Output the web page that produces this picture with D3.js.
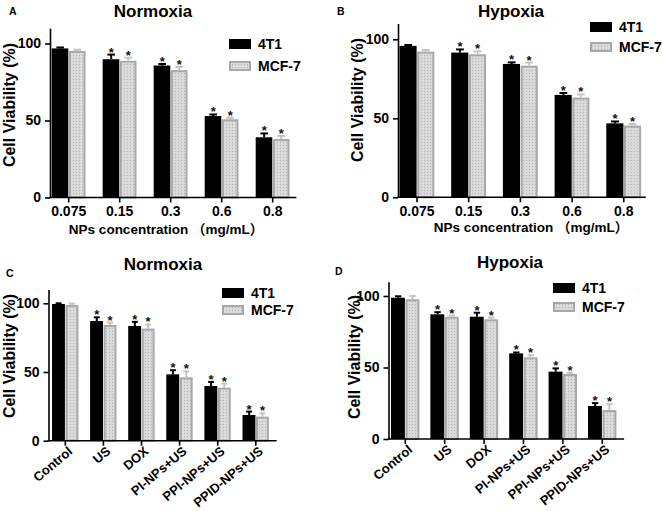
<!DOCTYPE html>
<html>
<head>
<meta charset="utf-8">
<script src="https://cdn.jsdelivr.net/npm/d3@7"></script>
<style>
  html, body { margin: 0; padding: 0; background: #fff; }
  text { font-family: "Liberation Sans", Arial, "Noto Sans CJK SC", sans-serif; font-weight: bold; }
</style>
</head>
<body>
<svg id="fig" width="663" height="511"></svg>
<script>
// ---------------- DATA ----------------
const concLabels = ["0.075", "0.15", "0.3", "0.6", "0.8"];
const treatLabels = ["Control", "US", "DOX", "PI-NPs+US", "PPI-NPs+US", "PPID-NPs+US"];
const seriesNames = ["4T1", "MCF-7"];
const yTickValues = [0, 50, 100];

// Panel A: Normoxia, NPs concentration
const a4T1 = [96.8, 89.8, 85.7, 52.9, 39.1];
const a4T1Err = [0.6, 3.0, 1.0, 1.0, 2.5];
const aMCF7 = [95.2, 88.8, 82.7, 50.8, 38.0];
const aMCF7Err = [0.8, 2.0, 2.0, 1.0, 2.0];
const aSig = [false, true, true, true, true];

// Panel B: Hypoxia, NPs concentration
const b4T1 = [95.8, 91.6, 84.4, 64.8, 46.8];
const b4T1Err = [0.6, 2.0, 1.0, 1.2, 1.2];
const bMCF7 = [92.2, 90.5, 83.3, 63.1, 45.4];
const bMCF7Err = [1.0, 1.8, 2.0, 2.0, 1.0];
const bSig = [false, true, true, true, true];

// Panel C: Normoxia, treatments
const c4T1 = [99.5, 87.1, 83.5, 48.3, 39.8, 18.7];
const c4T1Err = [0.5, 2.7, 3.0, 3.0, 3.0, 2.5];
const cMCF7 = [98.8, 84.2, 81.6, 46.1, 38.6, 17.5];
const cMCF7Err = [1.0, 1.8, 3.0, 4.3, 3.0, 2.5];
const cSig = [false, true, true, true, true, true];

// Panel D: Hypoxia, treatments
const d4T1 = [98.8, 87.2, 85.5, 59.9, 47.1, 23.1];
const d4T1Err = [1.0, 1.5, 2.8, 0.6, 2.3, 2.0];
const dMCF7 = [97.7, 85.5, 83.7, 57.1, 45.5, 20.3];
const dMCF7Err = [2.3, 0.8, 1.2, 1.5, 0.8, 4.0];
const dSig = [false, true, true, true, true, true];

// ---------------- DRAWING ----------------
const svg = d3.select("#fig");
const defs = svg.append("defs");
const pat = defs.append("pattern").attr("id", "dots")
  .attr("width", 3).attr("height", 3).attr("patternUnits", "userSpaceOnUse");
pat.append("rect").attr("width", 3).attr("height", 3).attr("fill", "#dcdcdc");
pat.append("circle").attr("cx", 1.5).attr("cy", 1.5).attr("r", 0.65).attr("fill", "#b4b4b4");

const barFill = ["#000", "url(#dots)"];
const barStroke = ["none", "#a8a8a8"];
const errColor = ["#000", "#c4c4c4"];

function drawPanel(p) {
  const g = svg.append("g");
  const n = p.categories.length;
  const y = d3.scaleLinear().domain([0, 110])
    .range([p.y0, p.y0 - (p.y0 - p.y100) * 1.1]);
  const r1 = p.axisX + p.step * (n - p.pi + 2 * p.po);
  const x = d3.scaleBand().domain(p.categories).range([p.axisX, r1])
    .paddingInner(p.pi).paddingOuter(p.po);
  const xs = d3.scaleBand().domain(seriesNames).range([0, x.bandwidth()]);

  const rows = [];
  p.categories.forEach((c, i) => {
    seriesNames.forEach((s, j) => {
      rows.push({ c, s, j, v: p.vals[j][i], e: p.errs[j][i], sig: p.sig[i] });
    });
  });

  // bars
  g.selectAll("rect.bar").data(rows).enter().append("rect")
    .attr("class", "bar")
    .attr("x", d => x(d.c) + xs(d.s) + (d.j === 1 ? 1.2 : 0))
    .attr("width", d => xs.bandwidth() - (d.j === 1 ? 2.4 : 0.4))
    .attr("y", d => y(d.v) + (d.j === 1 ? 1 : 0))
    .attr("height", d => y(0) - y(d.v) - (d.j === 1 ? 1 : 0))
    .attr("fill", d => barFill[d.j])
    .attr("stroke", d => barStroke[d.j])
    .attr("stroke-width", 2);

  // error bars (upper only)
  const cx = d => x(d.c) + xs(d.s) + xs.bandwidth() / 2;
  const capW = xs.bandwidth() * 0.45;
  g.selectAll("line.err").data(rows).enter().append("line")
    .attr("x1", cx).attr("x2", cx)
    .attr("y1", d => y(d.v)).attr("y2", d => y(d.v + d.e))
    .attr("stroke", d => errColor[d.j]).attr("stroke-width", 2);
  g.selectAll("line.cap").data(rows).enter().append("line")
    .attr("x1", d => cx(d) - capW / 2).attr("x2", d => cx(d) + capW / 2)
    .attr("y1", d => y(d.v + d.e)).attr("y2", d => y(d.v + d.e))
    .attr("stroke", d => errColor[d.j]).attr("stroke-width", 2);

  // significance stars
  g.selectAll("text.star").data(rows.filter(d => d.sig)).enter().append("text")
    .attr("x", cx).attr("y", d => y(d.v + d.e) + 2)
    .attr("text-anchor", "middle").attr("font-size", 13).attr("fill", "#111")
    .text("*");

  // y axis
  const ya = g.append("g").attr("transform", `translate(${p.axisX},0)`)
    .call(d3.axisLeft(y).tickValues(yTickValues).tickSize(5).tickSizeOuter(0).tickPadding(4));
  ya.selectAll("path, line").attr("stroke", "#000").attr("stroke-width", 1.6);
  ya.selectAll("text").attr("font-size", 14).attr("fill", "#000")
    .style("font-family", '"Liberation Sans", Arial, sans-serif').style("font-weight", "bold");

  // x axis
  const xa = g.append("g").attr("transform", `translate(0,${p.y0})`)
    .call(d3.axisBottom(x).tickSize(5).tickSizeOuter(0).tickPadding(4));
  xa.select("path.domain").remove();
  xa.append("line").attr("x1", p.axisX - 0.8).attr("x2", r1 + p.axisExt)
    .attr("y1", 0).attr("y2", 0);
  xa.selectAll("line").attr("stroke", "#000").attr("stroke-width", 1.6);
  xa.selectAll("text").attr("fill", "#000").attr("font-size", p.rotate ? 13 : 14)
    .style("font-family", '"Liberation Sans", Arial, sans-serif').style("font-weight", "bold");
  if (p.rotate) {
    xa.selectAll(".tick text")
      .attr("text-anchor", "end")
      .attr("dy", 0).attr("y", 0)
      .attr("transform", "translate(8,12) rotate(-40)");
  }

  // x title
  if (p.xTitle) {
    g.append("text").attr("x", p.xTitleX).attr("y", p.xTitleY)
      .attr("text-anchor", "middle").attr("font-size", 13.5).text(p.xTitle);
  }
  // y title
  g.append("text")
    .attr("transform", `translate(${p.yTitleX},${p.yTitleY}) rotate(-90)`)
    .attr("text-anchor", "middle").attr("font-size", 16).text("Cell Viability (%)");
  // title
  g.append("text").attr("x", p.titleX).attr("y", p.titleY)
    .attr("text-anchor", "middle").attr("font-size", 17).text(p.title);
  // panel letter
  g.append("text").attr("x", p.letterX).attr("y", p.letterY)
    .attr("font-size", 10.5).text(p.letter);

  // legend
  seriesNames.forEach((s, j) => {
    const ly = p.legY + j * p.legGap;
    g.append("rect").attr("x", p.legX + (j ? 1 : 0)).attr("y", ly + (j ? 1 : 0))
      .attr("width", 22 - (j ? 2 : 0)).attr("height", 10 - (j ? 2 : 0))
      .attr("fill", barFill[j]).attr("stroke", barStroke[j]).attr("stroke-width", 2);
    g.append("text").attr("x", p.legX + 29).attr("y", ly + 10)
      .attr("font-size", 14).text(s);
  });
}

drawPanel({
  letter: "A", letterX: 9, letterY: 15,
  title: "Normoxia", titleX: 153, titleY: 17,
  categories: concLabels, vals: [a4T1, aMCF7], errs: [a4T1Err, aMCF7Err], sig: aSig,
  axisX: 50, y0: 197.5, y100: 43.5, step: 51, pi: 0.333, po: 0.033, axisExt: 5,
  xTitle: "NPs concentration （mg/mL）", xTitleX: 166, xTitleY: 234,
  yTitleX: 15, yTitleY: 105,
  legX: 229, legY: 39, legGap: 22, rotate: false
});
drawPanel({
  letter: "B", letterX: 337, letterY: 15,
  title: "Hypoxia", titleX: 511, titleY: 17,
  categories: concLabels, vals: [b4T1, bMCF7], errs: [b4T1Err, bMCF7Err], sig: bSig,
  axisX: 398, y0: 197.3, y100: 39.3, step: 51.7, pi: 0.323, po: 0.029, axisExt: 3,
  xTitle: "NPs concentration （mg/mL）", xTitleX: 531, xTitleY: 232,
  yTitleX: 363, yTitleY: 100,
  legX: 590, legY: 22, legGap: 20, rotate: false
});
drawPanel({
  letter: "C", letterX: 6, letterY: 277,
  title: "Normoxia", titleX: 163, titleY: 270,
  categories: treatLabels, vals: [c4T1, cMCF7], errs: [c4T1Err, cMCF7Err], sig: cSig,
  axisX: 48.5, y0: 440.7, y100: 303.3, step: 38.1, pi: 0.302, po: 0.092, axisExt: 4,
  xTitle: null,
  yTitleX: 15, yTitleY: 356,
  legX: 222, legY: 288, legGap: 17, rotate: true
});
drawPanel({
  letter: "D", letterX: 335, letterY: 275,
  title: "Hypoxia", titleX: 510, titleY: 268,
  categories: treatLabels, vals: [d4T1, dMCF7], errs: [d4T1Err, dMCF7Err], sig: dSig,
  axisX: 388.5, y0: 439, y100: 296, step: 39.4, pi: 0.274, po: 0.063, axisExt: 5,
  xTitle: null,
  yTitleX: 360, yTitleY: 357,
  legX: 553, legY: 283, legGap: 19, rotate: true
});
</script>
</body>
</html>
